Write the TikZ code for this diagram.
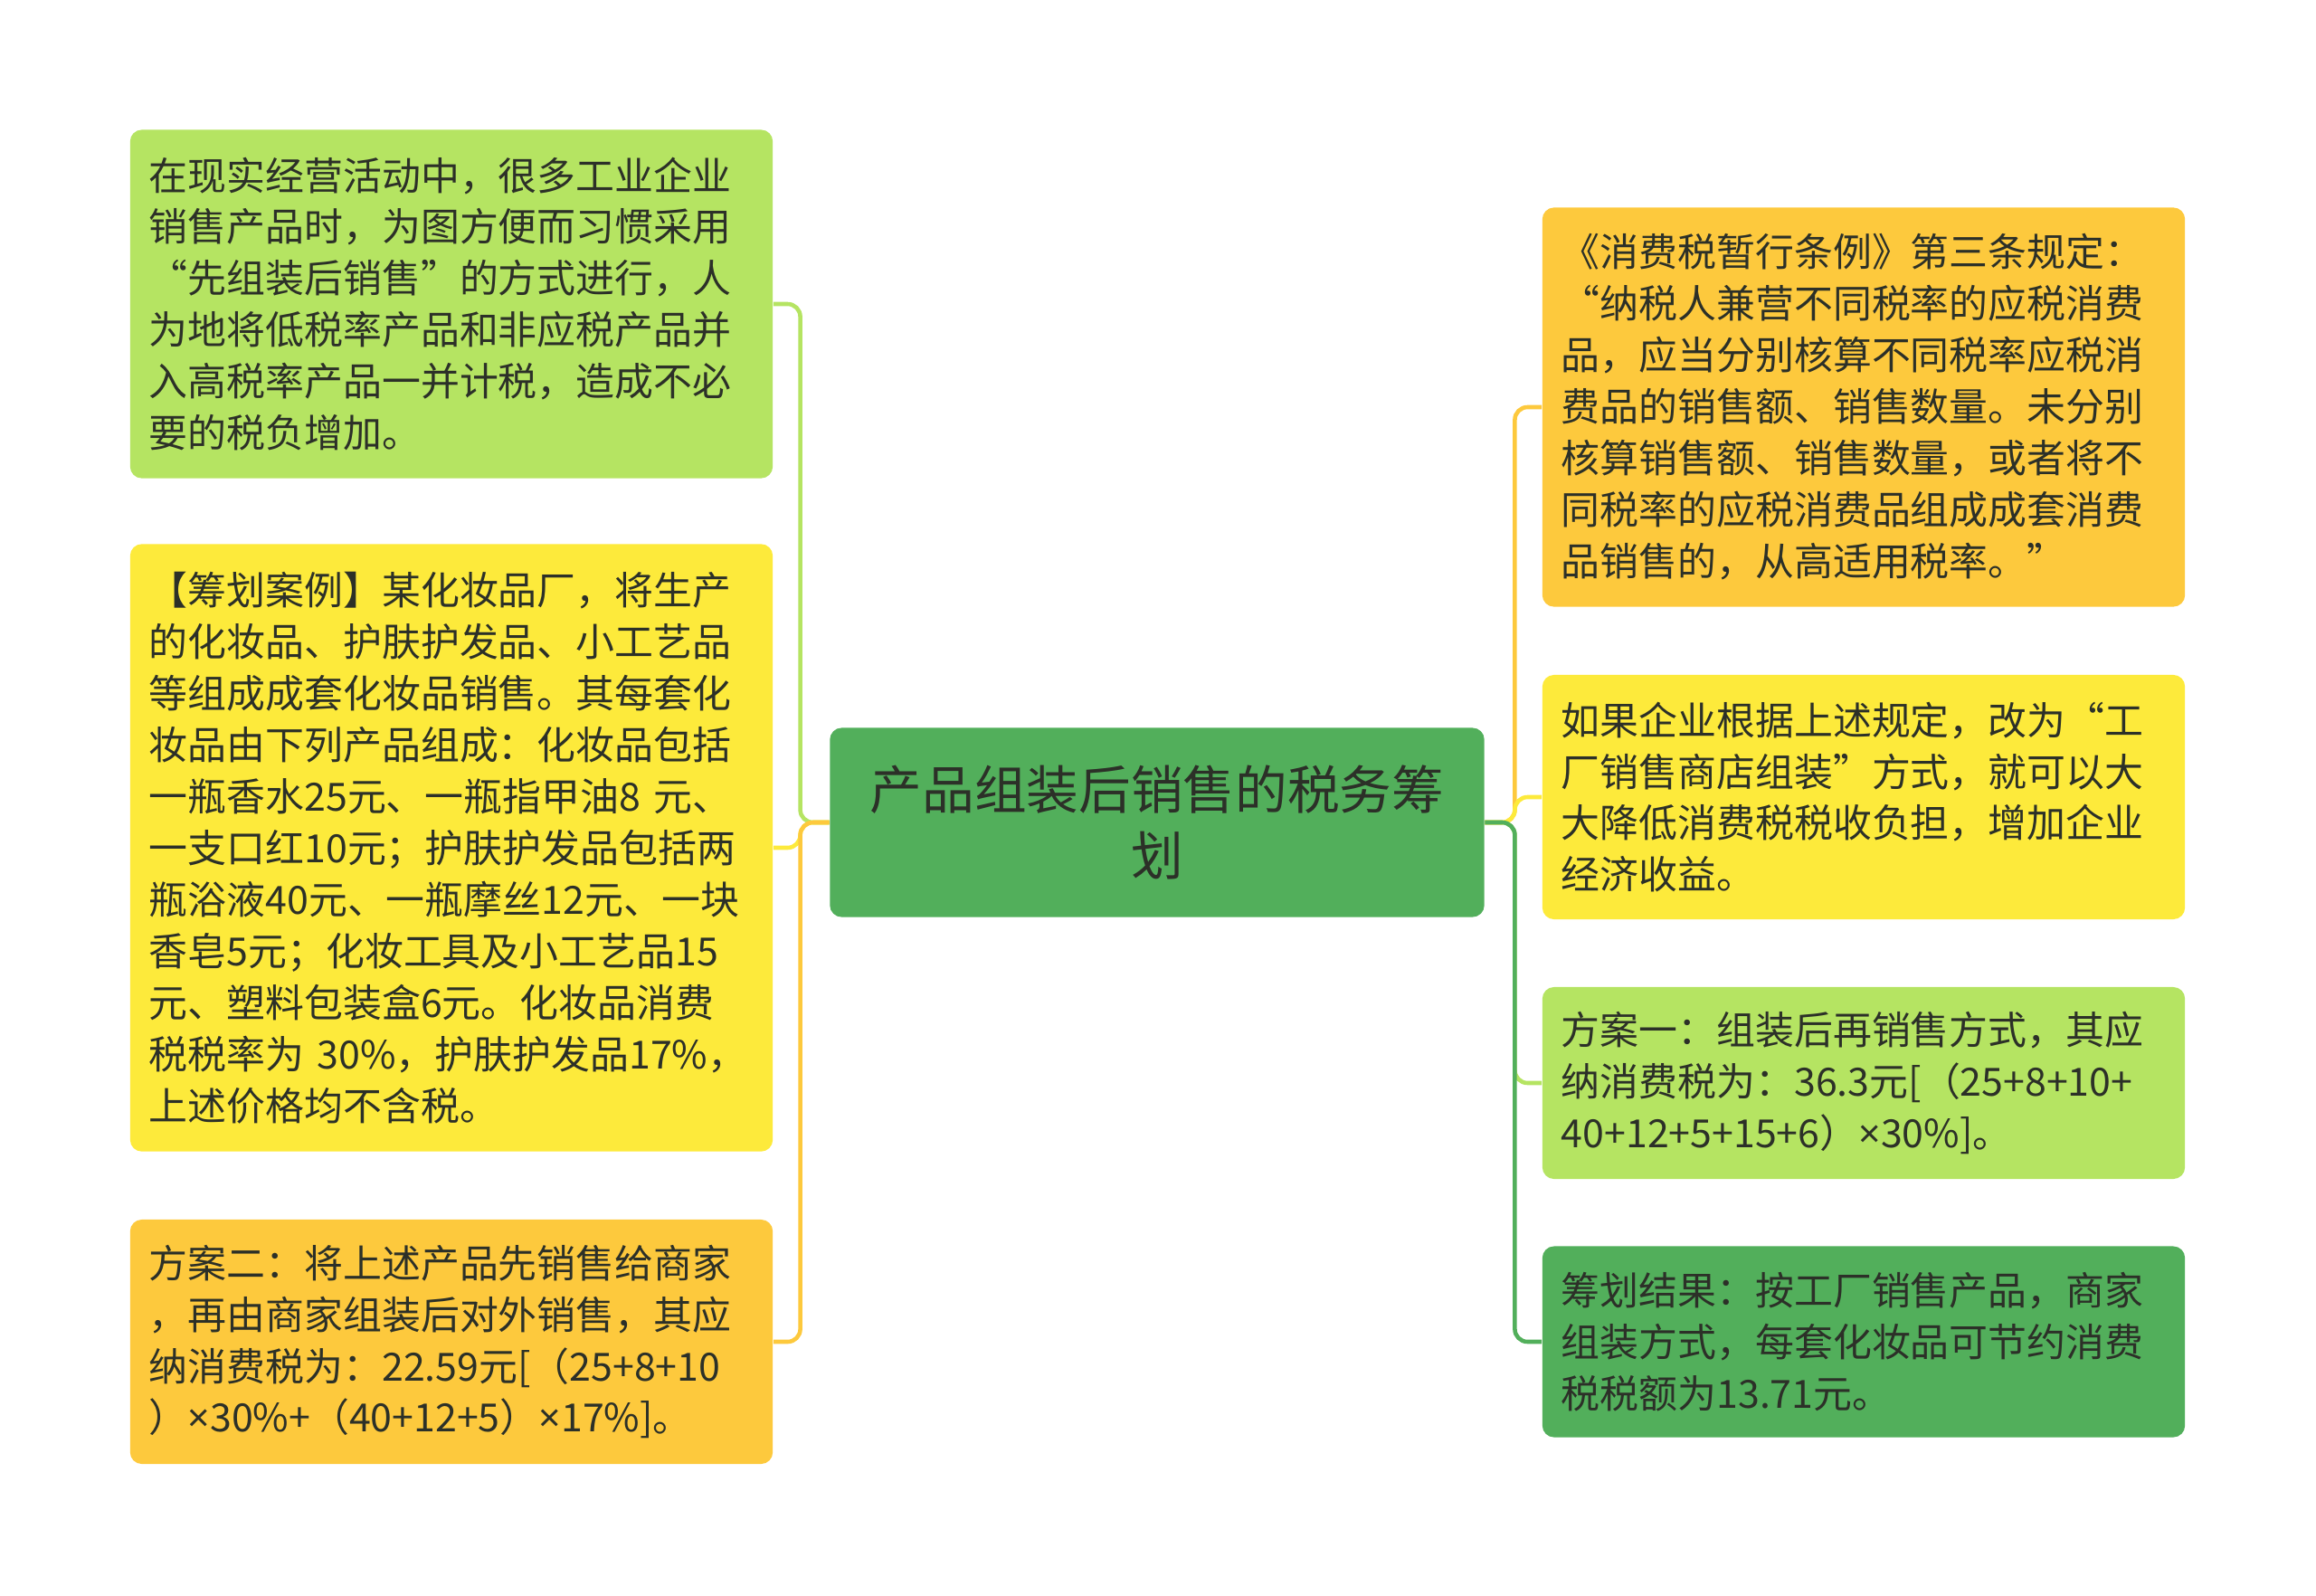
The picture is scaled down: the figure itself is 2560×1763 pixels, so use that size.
\documentclass[tikz,border=0pt]{standalone}
\usepackage{fontspec}
\setmainfont{Noto Sans CJK SC}
\newfontfamily\latinfont{Noto Sans}
\newcommand{\ptimes}{{\latinfont ×}}
\definecolor{leafgreen}{RGB}{181,228,98}
\definecolor{lemon}{RGB}{253,234,59}
\definecolor{amber}{RGB}{253,201,61}
\definecolor{grass}{RGB}{82,175,91}
\definecolor{ink}{RGB}{44,48,40}
\begin{document}
\begin{tikzpicture}[x=0.01cm, y=-0.01cm,
    topic/.style={rounded corners=0.13cm, fill=#1, text=ink, inner xsep=0.21cm, inner ysep=0pt,
      text width=6.68cm, align=left, font=\fontsize{12.2pt}{16.2pt}\selectfont},
    branch/.style={draw=#1, line width=1.3pt, rounded corners=0.14cm}]
      \useasboundingbox (0,0) rectangle (2560,1763);

      \node[topic=grass, text width=6.81cm, align=center, minimum height=2.09cm,
        font=\fontsize{16.4pt}{20.9pt}\selectfont] (root) at (1279,909) {产品组装后销售的税务筹\\划};

      \node[topic=leafgreen, minimum height=3.85cm] (habit) at (499,336)
        {在现实经营活动中，很多工业企业\\销售产品时，为图方便而习惯采用\\“先组装后销售”的方式进行，人\\为地将低税率产品和非应税产品并\\入高税率产品一并计税，造成不必\\要的税负增加。};
      \node[topic=lemon, minimum height=6.71cm] (case) at (499,937)
        {【筹划案例】某化妆品厂，将生产\\的化妆品、护肤护发品、小工艺品\\等组成成套化妆品销售。其每套化\\妆品由下列产品组成：化妆品包括\\一瓶香水25元、一瓶指甲油8~元、\\一支口红10元；护肤护发品包括两\\瓶浴液40元、一瓶摩丝12元、一块\\香皂5元；化妆工具及小工艺品15\\元、塑料包装盒6元。化妆品消费\\税税率为~30\%，护肤护发品17\%，\\上述价格均不含税。};
      \node[topic=amber, minimum height=2.70cm] (plantwo) at (499,1483)
        {方案二：将上述产品先销售给商家\\，再由商家组装后对外销售，其应\\纳消费税为：22.59元[（25+8+10\\）\ptimes 30\%+（40+12+5）\ptimes 17\%]。};

      \node[topic=amber, minimum height=4.41cm] (rule) at (2060,450)
        {《消费税暂行条例》第三条规定：\\“纳税人兼营不同税率的应税消费\\品，应当分别核算不同税率应税消\\费品的销售额、销售数量。未分别\\核算销售额、销售数量，或者将不\\同税率的应税消费品组成成套消费\\品销售的，从高适用税率。”};
      \node[topic=lemon, minimum height=2.70cm] (change) at (2060,881)
        {如果企业根据上述规定，改为“工\\厂销售商店组装”方式，就可以大\\大降低消费税税收负担，增加企业\\经济收益。};
      \node[topic=leafgreen, minimum height=2.12cm] (planone) at (2060,1197)
        {方案一：组装后再销售方式，其应\\纳消费税为：36.3元[（25+8+10+\\40+12+5+15+6）\ptimes 30\%]。};
      \node[topic=grass, minimum height=2.11cm] (result) at (2060,1483)
        {筹划结果：按工厂销售产品，商家\\组装方式，每套化妆品可节约消费\\税税额为13.71元。};

      \draw[branch=leafgreen] (root.west) -- ++(-32,0) |- (habit.east);
      \draw[branch=lemon] (root.west) -- ++(-32,0) |- (case.east);
      \draw[branch=amber] (root.west) -- ++(-32,0) |- (plantwo.east);

      \draw[branch=amber] (root.east) -- ++(33,0) |- (rule.west);
      \draw[branch=lemon] (root.east) -- ++(33,0) |- (change.west);
      \draw[branch=leafgreen] (root.east) -- ++(33,0) |- (planone.west);
      \draw[branch=grass] (root.east) -- ++(33,0) |- (result.west);
    \end{tikzpicture}
\end{document}
